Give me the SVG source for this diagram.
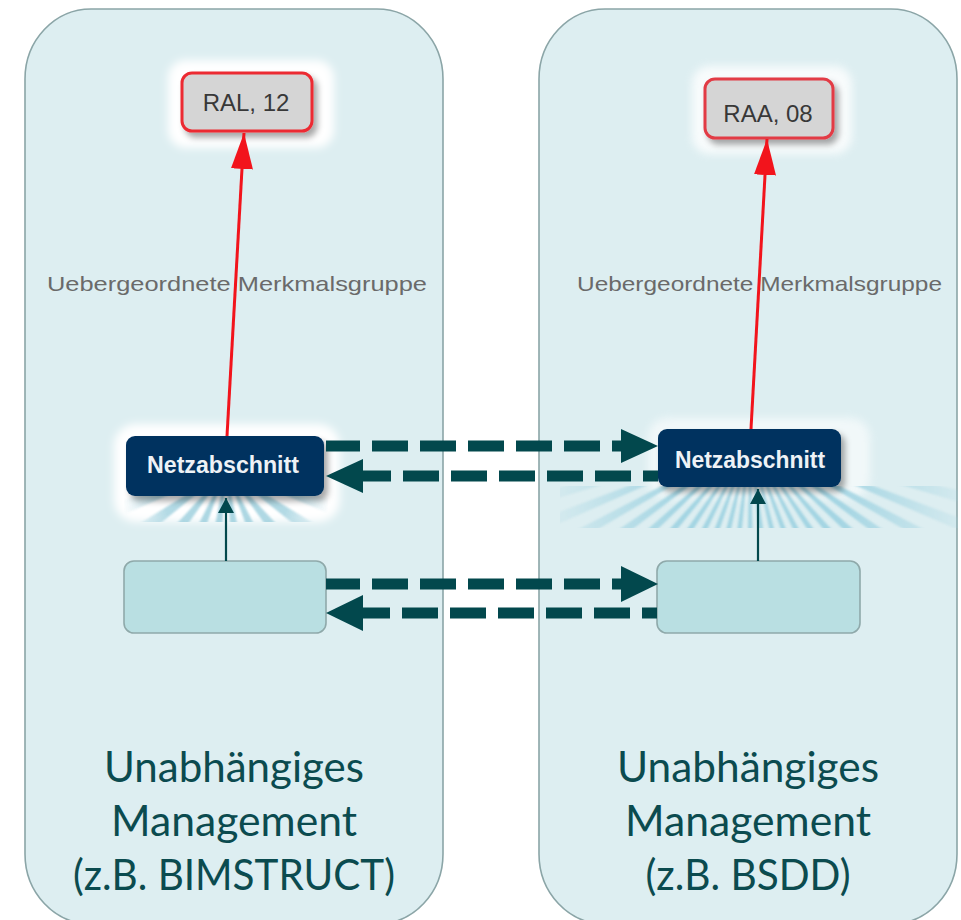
<svg xmlns="http://www.w3.org/2000/svg" width="961" height="920" viewBox="0 0 961 920">
  <style>
    .panel { fill: #ddeef1; stroke: #8ba5a7; stroke-width: 1.6; }
    .tag { fill: #d5d5d5; stroke: #ec2a31; stroke-width: 3; }
    .tag-text { font-family: "Liberation Sans", Arial, sans-serif; font-size: 24px; fill: #383838; text-anchor: middle; }
    .net { fill: #00335f; }
    .net-text { font-family: "Liberation Sans", Arial, sans-serif; font-size: 23px; font-weight: bold; fill: #eef2f6; text-anchor: middle; }
    .rel { font-family: "Liberation Sans", Arial, sans-serif; font-size: 21px; fill: #6a6a6a; }
    .leaf { fill: #b9dfe2; stroke: #8fa9aa; stroke-width: 1.6; }
    .caption { font-family: Lato, "Open Sans", sans-serif; font-size: 42px; fill: #0b4b4f; text-anchor: middle; }
    .red { stroke: #f2141c; stroke-width: 3; fill: none; }
    .up { stroke: #02484d; stroke-width: 2.2; fill: none; }
    .dash { stroke: #02484d; stroke-width: 11; fill: none; stroke-dasharray: 36 12; }
    .head { fill: #02484d; }
    .halo { fill: #ffffff; filter: url(#soft); }
  </style>
  <defs>
    <filter id="soft" x="-20%" y="-40%" width="140%" height="180%">
      <feGaussianBlur stdDeviation="4"/>
    </filter>
    <filter id="drop" x="-20%" y="-30%" width="150%" height="180%">
      <feDropShadow dx="4" dy="5" stdDeviation="3" flood-color="#000" flood-opacity="0.35"/>
    </filter>
    <filter id="raysBlur" filterUnits="userSpaceOnUse" x="0" y="0" width="961" height="920">
      <feGaussianBlur stdDeviation="1.2"/>
    </filter>
    <marker id="redHead" markerUnits="userSpaceOnUse" markerWidth="38" markerHeight="22" refX="36" refY="11" orient="auto">
      <path d="M0,0 L36,11 L0,22 z" fill="#f2141c"/>
    </marker>
    <marker id="tealHead" markerUnits="userSpaceOnUse" markerWidth="16" markerHeight="18" refX="15" refY="8" orient="auto">
      <path d="M0,0 L15,8 L0,16 z" fill="#02484d"/>
    </marker>
    <clipPath id="raysL"><rect x="124" y="496" width="204" height="26"/></clipPath>
    <clipPath id="raysR"><rect x="560" y="486" width="398" height="42"/></clipPath>
    <radialGradient id="fadeL" cx="226" cy="490" r="105" gradientUnits="userSpaceOnUse">
      <stop offset="0" stop-color="#fff" stop-opacity="1"/>
      <stop offset="0.6" stop-color="#fff" stop-opacity="0.85"/>
      <stop offset="1" stop-color="#fff" stop-opacity="0"/>
    </radialGradient>
    <mask id="maskL" maskUnits="userSpaceOnUse" x="0" y="0" width="961" height="920"><rect x="120" y="490" width="212" height="36" fill="url(#fadeL)"/></mask>
    <linearGradient id="fadeR" x1="560" y1="0" x2="958" y2="0" gradientUnits="userSpaceOnUse">
      <stop offset="0" stop-color="#fff" stop-opacity="0.15"/>
      <stop offset="0.3" stop-color="#fff" stop-opacity="0.9"/>
      <stop offset="0.7" stop-color="#fff" stop-opacity="0.9"/>
      <stop offset="1" stop-color="#fff" stop-opacity="0.15"/>
    </linearGradient>
    <mask id="maskR" maskUnits="userSpaceOnUse" x="0" y="0" width="961" height="920"><rect x="560" y="480" width="400" height="50" fill="url(#fadeR)"/></mask>
  </defs>

  <!-- background panels -->
  <g id="panel-left">
    <rect class="panel" x="25" y="9" width="418" height="915" rx="66" ry="70"/>
    <text class="caption" x="234" y="782" textLength="260" lengthAdjust="spacingAndGlyphs">Unabhängiges</text>
    <text class="caption" x="234" y="836" textLength="246" lengthAdjust="spacingAndGlyphs">Management</text>
    <text class="caption" x="234" y="890" textLength="322" lengthAdjust="spacingAndGlyphs">(z.B. BIMSTRUCT)</text>
  </g>
  <g id="panel-right">
    <rect class="panel" x="539" y="9" width="418" height="915" rx="66" ry="70"/>
    <text class="caption" x="748" y="782" textLength="262" lengthAdjust="spacingAndGlyphs">Unabhängiges</text>
    <text class="caption" x="748" y="836" textLength="246" lengthAdjust="spacingAndGlyphs">Management</text>
    <text class="caption" x="748" y="890" textLength="205" lengthAdjust="spacingAndGlyphs">(z.B. BSDD)</text>
  </g>

  <!-- relation labels -->
  <g id="labels">
    <text class="rel" x="47" y="291" textLength="380" lengthAdjust="spacingAndGlyphs">Uebergeordnete Merkmalsgruppe</text>
    <text class="rel" x="577" y="291" textLength="365" lengthAdjust="spacingAndGlyphs">Uebergeordnete Merkmalsgruppe</text>
  </g>

  <!-- nodes -->
  <g id="ral">
    <rect class="halo" x="168" y="60" width="166" height="88" rx="18"/>
    <rect class="tag" x="182" y="73" width="130" height="58" rx="10" filter="url(#drop)"/>
    <text class="tag-text" x="246" y="111">RAL, 12</text>
  </g>
  <g id="raa">
    <rect class="halo" x="692" y="66" width="160" height="88" rx="18" opacity="0.8"/>
    <rect class="tag" x="705" y="79" width="128" height="59" rx="10" filter="url(#drop)" style="stroke:#e23a44"/>
    <text class="tag-text" x="768" y="122">RAA, 08</text>
  </g>

  <g id="netz-left">
    <rect class="halo" x="114" y="424" width="226" height="98" rx="22"/>
    <g clip-path="url(#raysL)" mask="url(#maskL)" filter="url(#raysBlur)" opacity="0.9">
      <circle cx="226" cy="470" r="55" fill="none" stroke="#9ccfdd" stroke-width="110" stroke-dasharray="7 8"/>
    </g>
    <rect class="net" x="126" y="436" width="198" height="60" rx="9" filter="url(#drop)"/>
    <text class="net-text" x="223" y="473" textLength="152" lengthAdjust="spacingAndGlyphs">Netzabschnitt</text>
  </g>
  <g id="netz-right">
    <rect class="halo" x="648" y="418" width="222" height="80" rx="20" opacity="0.6"/>
    <g clip-path="url(#raysR)" mask="url(#maskR)" filter="url(#raysBlur)">
      <circle cx="750" cy="440" r="118" fill="none" stroke="#9dd2e1" stroke-width="236" stroke-dasharray="6 8"/>
    </g>
    <rect class="net" x="658" y="429" width="183" height="58" rx="9" filter="url(#drop)"/>
    <text class="net-text" x="750" y="468" textLength="150" lengthAdjust="spacingAndGlyphs">Netzabschnitt</text>
  </g>

  <g id="leaf-left">
    <rect class="leaf" x="124" y="561" width="202" height="72" rx="10"/>
  </g>
  <g id="leaf-right">
    <rect class="leaf" x="657" y="561" width="203" height="72" rx="10"/>
  </g>

  <!-- connectors -->
  <g id="connectors">
    <line class="red" x1="227" y1="436" x2="244" y2="133" marker-end="url(#redHead)"/>
    <line class="red" x1="751" y1="429" x2="767" y2="139" marker-end="url(#redHead)"/>

    <line class="up" x1="226" y1="561" x2="226" y2="498" marker-end="url(#tealHead)"/>
    <line class="up" x1="758" y1="561" x2="758" y2="489" marker-end="url(#tealHead)"/>

    <!-- Netzabschnitt exchange -->
    <line class="dash" x1="326" y1="446" x2="622" y2="446" stroke-dashoffset="2"/>
    <polygon class="head" points="621,429 658,446 621,463"/>
    <line class="dash" x1="658" y1="476" x2="362" y2="476" stroke-dashoffset="21"/>
    <polygon class="head" points="363,459 326,476 363,493"/>

    <!-- leaf exchange -->
    <line class="dash" x1="326" y1="584" x2="622" y2="584" stroke-dashoffset="2"/>
    <polygon class="head" points="621,566 658,584 621,602"/>
    <line class="dash" x1="657" y1="613" x2="362" y2="613" stroke-dashoffset="21"/>
    <polygon class="head" points="363,595 326,613 363,631"/>
  </g>
</svg>
